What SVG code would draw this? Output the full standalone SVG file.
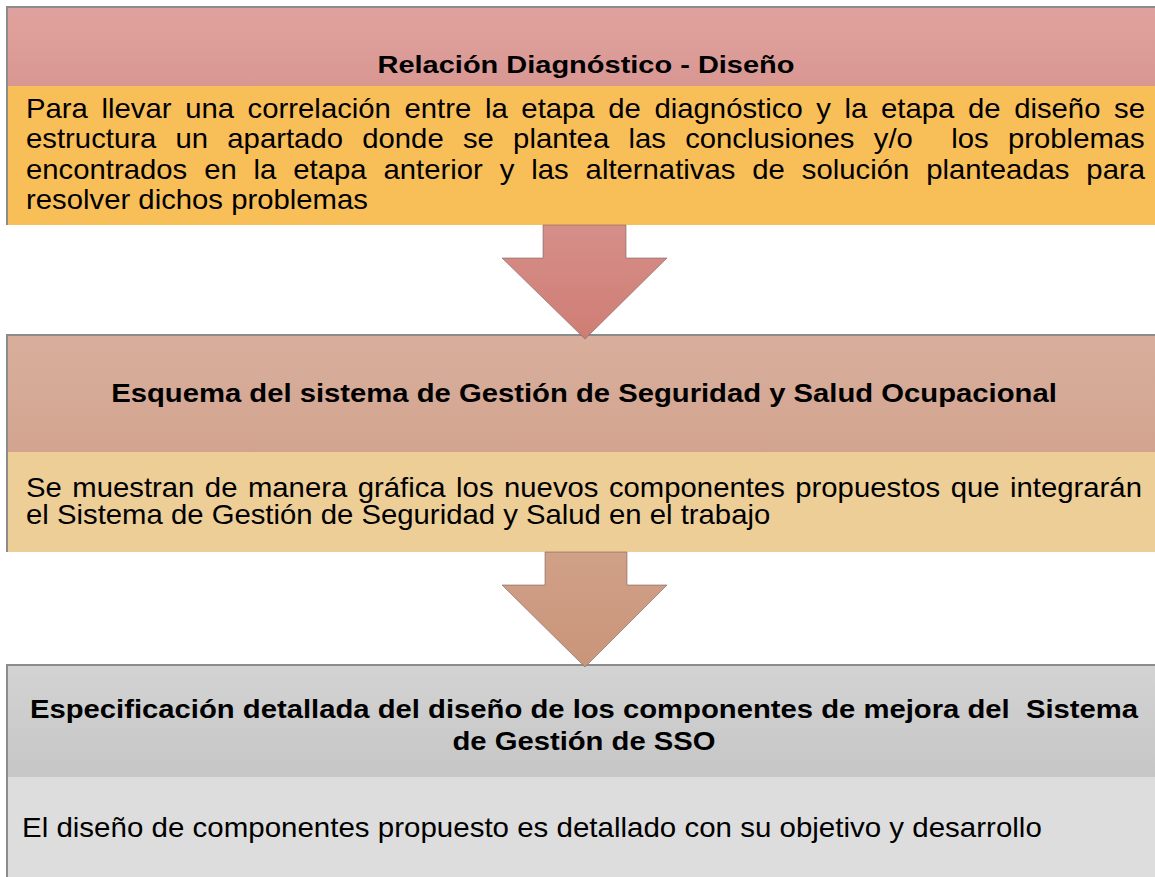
<svg xmlns="http://www.w3.org/2000/svg" width="1155" height="877" viewBox="0 0 1155 877">
  <defs>
    <linearGradient id="h1" x1="0" y1="0" x2="0" y2="1">
      <stop offset="0" stop-color="#E0A29E"/>
      <stop offset="1" stop-color="#D99792"/>
    </linearGradient>
    <linearGradient id="h2" x1="0" y1="0" x2="0" y2="1">
      <stop offset="0" stop-color="#D8AF9C"/>
      <stop offset="1" stop-color="#D2A48F"/>
    </linearGradient>
    <linearGradient id="h3" x1="0" y1="0" x2="0" y2="1">
      <stop offset="0" stop-color="#D3D3D3"/>
      <stop offset="1" stop-color="#C6C6C6"/>
    </linearGradient>
    <linearGradient id="a1" x1="0" y1="0" x2="0" y2="1">
      <stop offset="0" stop-color="#D58F89"/>
      <stop offset="1" stop-color="#CF7D74"/>
    </linearGradient>
    <linearGradient id="a2" x1="0" y1="0" x2="0" y2="1">
      <stop offset="0" stop-color="#D0A087"/>
      <stop offset="1" stop-color="#C9957A"/>
    </linearGradient>
  </defs>
  <style>
    .border { fill: none; stroke: #8C8C8C; stroke-width: 2; }
    .title { font-family: "Liberation Sans", Arial, sans-serif; font-weight: bold; fill: #000; text-anchor: middle; }
    .body { font-family: "Liberation Sans", Arial, sans-serif; fill: #000; }
    .arrow { stroke: #7E6360; stroke-width: 1; stroke-opacity: 0.6; }
  </style>
  <rect width="1155" height="877" fill="#FFFFFF"/>

  <g id="node1">
    <rect x="7" y="7" width="1148" height="79" fill="url(#h1)"/>
    <rect x="7" y="86" width="1148" height="139" fill="#F8BE58"/>
    <path class="border" d="M7 225 V7 H1155"/>
    <text class="title" font-size="29" transform="translate(586,73) scale(1,0.83)">Relación Diagnóstico - Diseño</text>
    <g class="body" font-size="29.3">
      <text transform="translate(26,118) scale(1,0.915)" word-spacing="5.48">Para llevar una correlación entre la etapa de diagnóstico y la etapa de diseño se</text>
      <text xml:space="preserve" style="white-space:pre" transform="translate(26,148) scale(1,0.915)" word-spacing="11.1">estructura un apartado donde se plantea las conclusiones y/o  los problemas</text>
      <text transform="translate(26,179) scale(1,0.915)" word-spacing="8.75">encontrados en la etapa anterior y las alternativas de solución planteadas para</text>
      <text transform="translate(26,209) scale(1,0.915)">resolver dichos problemas</text>
    </g>
  </g>

  <g id="node2">
    <rect x="7" y="335" width="1148" height="117" fill="url(#h2)"/>
    <rect x="7" y="452" width="1148" height="100" fill="#EDCE97"/>
    <path class="border" d="M7 552 V335 H1155"/>
    <text class="title" font-size="29.25" transform="translate(584,402) scale(1,0.875)">Esquema del sistema de Gestión de Seguridad y Salud Ocupacional</text>
    <g class="body" font-size="29.3">
      <text transform="translate(26,497) scale(1,0.915)" word-spacing="2.32">Se muestran de manera gráfica los nuevos componentes propuestos que integrarán</text>
      <text transform="translate(26,524) scale(1,0.915)">el Sistema de Gestión de Seguridad y Salud en el trabajo</text>
    </g>
  </g>

  <g id="node3">
    <rect x="7" y="665" width="1148" height="112" fill="url(#h3)"/>
    <rect x="7" y="777" width="1148" height="100" fill="#DDDDDD"/>
    <path class="border" d="M7 877 V665 H1155"/>
    <text class="title" font-size="29.25" xml:space="preserve" style="white-space:pre" transform="translate(584,718) scale(1,0.875)">Especificación detallada del diseño de los componentes de mejora del  Sistema</text>
    <text class="title" font-size="29.25" transform="translate(584,750) scale(1,0.875)">de Gestión de SSO</text>
    <text class="body" font-size="29.5" transform="translate(22,837) scale(1,0.95)">El diseño de componentes propuesto es detallado con su objetivo y desarrollo</text>
  </g>

  <g id="connectors">
    <path class="arrow" fill="url(#a1)" d="M543 225 H626 V258 H667 L585 339 L502 258 H543 Z"/>
    <path class="arrow" fill="url(#a2)" d="M545 552 H627 V585 H667 L585 667 L502 585 H545 Z"/>
  </g>
</svg>
